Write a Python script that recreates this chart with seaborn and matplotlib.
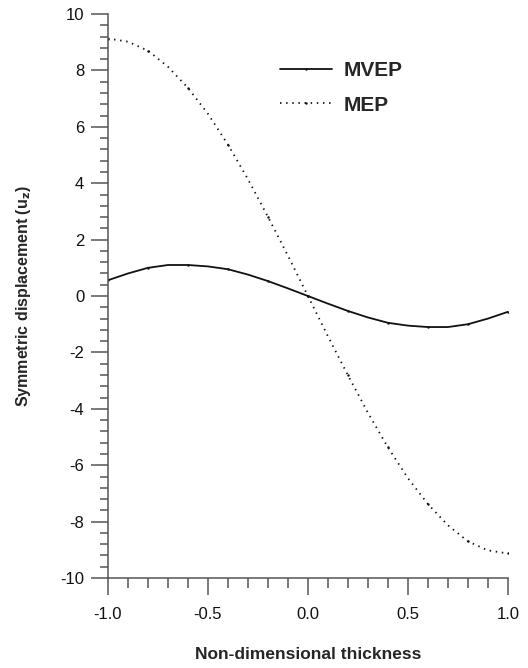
import numpy as np
import pandas as pd
import matplotlib
matplotlib.use("Agg")
import matplotlib.pyplot as plt
import seaborn as sns
from matplotlib.ticker import MultipleLocator, FormatStrFormatter

# === Data ===
thickness = [-1.0, -0.9, -0.8, -0.7, -0.6, -0.5, -0.4, -0.3, -0.2, -0.1, 0.0,
             0.1, 0.2, 0.3, 0.4, 0.5, 0.6, 0.7, 0.8, 0.9, 1.0]
mvep = [0.56, 0.80, 1.00, 1.10, 1.10, 1.05, 0.95, 0.76, 0.53, 0.27, 0.0,
        -0.27, -0.53, -0.76, -0.95, -1.05, -1.10, -1.10, -1.00, -0.80, -0.56]
mep = [9.13, 9.02, 8.70, 8.13, 7.38, 6.46, 5.37, 4.14, 2.81, 1.43, 0.0,
       -1.43, -2.81, -4.14, -5.37, -6.46, -7.38, -8.13, -8.70, -9.02, -9.13]

df = pd.DataFrame({"x": thickness, "MVEP": mvep, "MEP": mep})
df_long = df.melt(id_vars="x", var_name="series", value_name="u")

# === Style ===
sns.set_style("ticks")
plt.rcParams["font.family"] = ["Liberation Sans", "DejaVu Sans"]
axis_col = "#555555"

fig = plt.figure(figsize=(5.28, 6.68), dpi=100)
ax = fig.add_axes([0.2045, 0.1347, 0.7575, 0.8443])

sns.lineplot(data=df_long, x="x", y="u", hue="series", style="series",
             palette={"MVEP": "#111111", "MEP": "#111111"},
             dashes={"MVEP": "", "MEP": (0.8, 2.6)},
             markers={"MVEP": ".", "MEP": "."}, markersize=3.5,
             markeredgewidth=0, linewidth=1.3, ax=ax, legend=True)
for line in ax.lines:
    line.set_markevery(2)

# === Axes ===
ax.set_xlim(-1.0, 1.0)
ax.set_ylim(-10, 10)
ax.xaxis.set_major_locator(MultipleLocator(0.5))
ax.xaxis.set_minor_locator(MultipleLocator(0.1))
ax.yaxis.set_major_locator(MultipleLocator(2))
ax.yaxis.set_minor_locator(MultipleLocator(0.4))
ax.xaxis.set_major_formatter(FormatStrFormatter("%.1f"))
ax.yaxis.set_major_formatter(FormatStrFormatter("%d"))

sns.despine(ax=ax)
for side in ["left", "bottom"]:
    ax.spines[side].set_color(axis_col)
    ax.spines[side].set_linewidth(1.1)
ax.tick_params(which="major", length=12, width=1.1, color=axis_col,
               labelsize=12, labelcolor="#111111")
ax.tick_params(axis="x", which="major", pad=9)
ax.tick_params(axis="y", which="major", pad=5)
ax.tick_params(which="minor", length=6, width=1.1, color=axis_col)
ax.tick_params(axis="x", which="minor", length=7)

ax.set_xlabel("Non-dimensional thickness", fontsize=12.5, fontweight="bold", labelpad=18)
ax.set_ylabel("Symmetric displacement (u$_\\mathbf{z}$)", fontsize=11.5, fontweight="bold", labelpad=20)

leg = ax.legend(loc="upper left", bbox_to_anchor=(0.383, 0.95), frameon=False,
                fontsize=15, handlelength=2.5, labelspacing=0.75, handletextpad=0.55)
for t in leg.get_texts():
    t.set_fontweight("bold")

plt.savefig("out.png", dpi=100)
plt.close()
